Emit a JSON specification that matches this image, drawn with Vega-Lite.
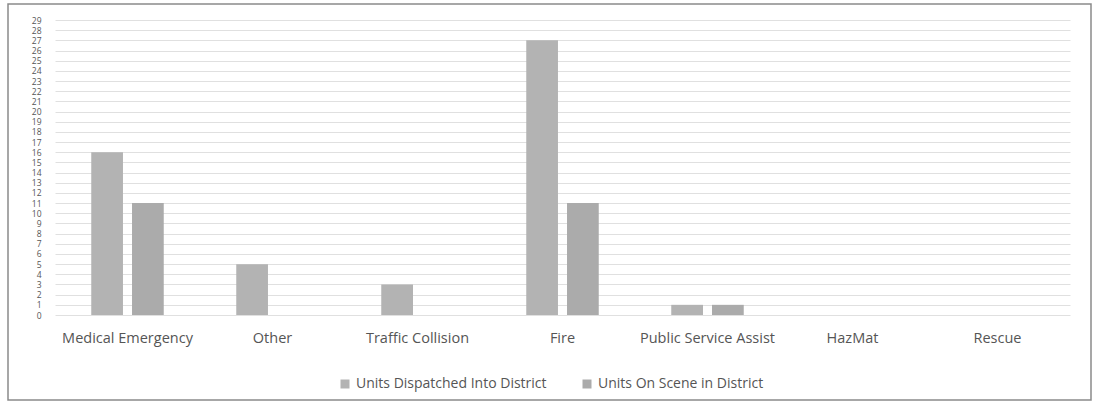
{
  "$schema": "https://vega.github.io/schema/vega-lite/v6.json",
  "width": 1083,
  "height": 396,
  "autosize": {"type": "none"},
  "padding": {"left": 8, "top": 4, "right": 8, "bottom": 9},
  "background": "white",
  "config": {
    "view": {"stroke": "#8a8a8a", "strokeWidth": 1.5},
    "font": "Open Sans"
  },
  "data": {
    "values": [
      {"category": "Medical Emergency", "series": "Units Dispatched Into District", "units": 16},
      {"category": "Medical Emergency", "series": "Units On Scene in District", "units": 11},
      {"category": "Other", "series": "Units Dispatched Into District", "units": 5},
      {"category": "Other", "series": "Units On Scene in District", "units": 0},
      {"category": "Traffic Collision", "series": "Units Dispatched Into District", "units": 3},
      {"category": "Traffic Collision", "series": "Units On Scene in District", "units": 0},
      {"category": "Fire", "series": "Units Dispatched Into District", "units": 27},
      {"category": "Fire", "series": "Units On Scene in District", "units": 11},
      {"category": "Public Service Assist", "series": "Units Dispatched Into District", "units": 1},
      {"category": "Public Service Assist", "series": "Units On Scene in District", "units": 1},
      {"category": "HazMat", "series": "Units Dispatched Into District", "units": 0},
      {"category": "HazMat", "series": "Units On Scene in District", "units": 0},
      {"category": "Rescue", "series": "Units Dispatched Into District", "units": 0},
      {"category": "Rescue", "series": "Units On Scene in District", "units": 0}
    ]
  },
  "mark": {"type": "bar"},
  "encoding": {
    "x": {
      "field": "category",
      "type": "nominal",
      "sort": null,
      "scale": {"range": [47, 1062], "paddingInner": 0.5, "paddingOuter": 0.25},
      "axis": {
        "title": null,
        "labelAngle": 0,
        "labelFont": "Open Sans",
        "labelFontSize": 14.5,
        "labelColor": "#555555",
        "domain": false,
        "ticks": false,
        "grid": false,
        "offset": -69,
        "labelPadding": 0
      }
    },
    "xOffset": {
      "field": "series",
      "type": "nominal",
      "sort": null,
      "scale": {"paddingInner": 0.222, "paddingOuter": 0}
    },
    "y": {
      "field": "units",
      "type": "quantitative",
      "scale": {"domain": [0, 29], "range": [311, 16], "nice": false, "zero": true},
      "axis": {
        "title": null,
        "values": [0,1,2,3,4,5,6,7,8,9,10,11,12,13,14,15,16,17,18,19,20,21,22,23,24,25,26,27,28,29],
        "labelOverlap": false,
        "labelFlush": false,
        "labelBound": false,
        "labelFont": "Open Sans",
        "labelFontSize": 8.5,
        "labelColor": "#555555",
        "domain": false,
        "ticks": false,
        "grid": true,
        "gridColor": "#e0e0e0",
        "gridWidth": 1,
        "offset": -33,
        "labelPadding": 0
      }
    },
    "y2": {"datum": 0},
    "color": {
      "field": "series",
      "type": "nominal",
      "sort": null,
      "scale": {"range": ["#b3b3b3", "#ababab"]},
      "legend": {
        "title": null,
        "orient": "none",
        "direction": "horizontal",
        "legendX": 330,
        "legendY": 373,
        "padding": 0,
        "symbolType": "square",
        "symbolSize": 81,
        "symbolStrokeWidth": 0,
        "labelFont": "Open Sans",
        "labelFontSize": 14,
        "labelColor": "#555555",
        "labelOffset": 4,
        "columnPadding": 33,
        "labelLimit": 400
      }
    }
  }
}
